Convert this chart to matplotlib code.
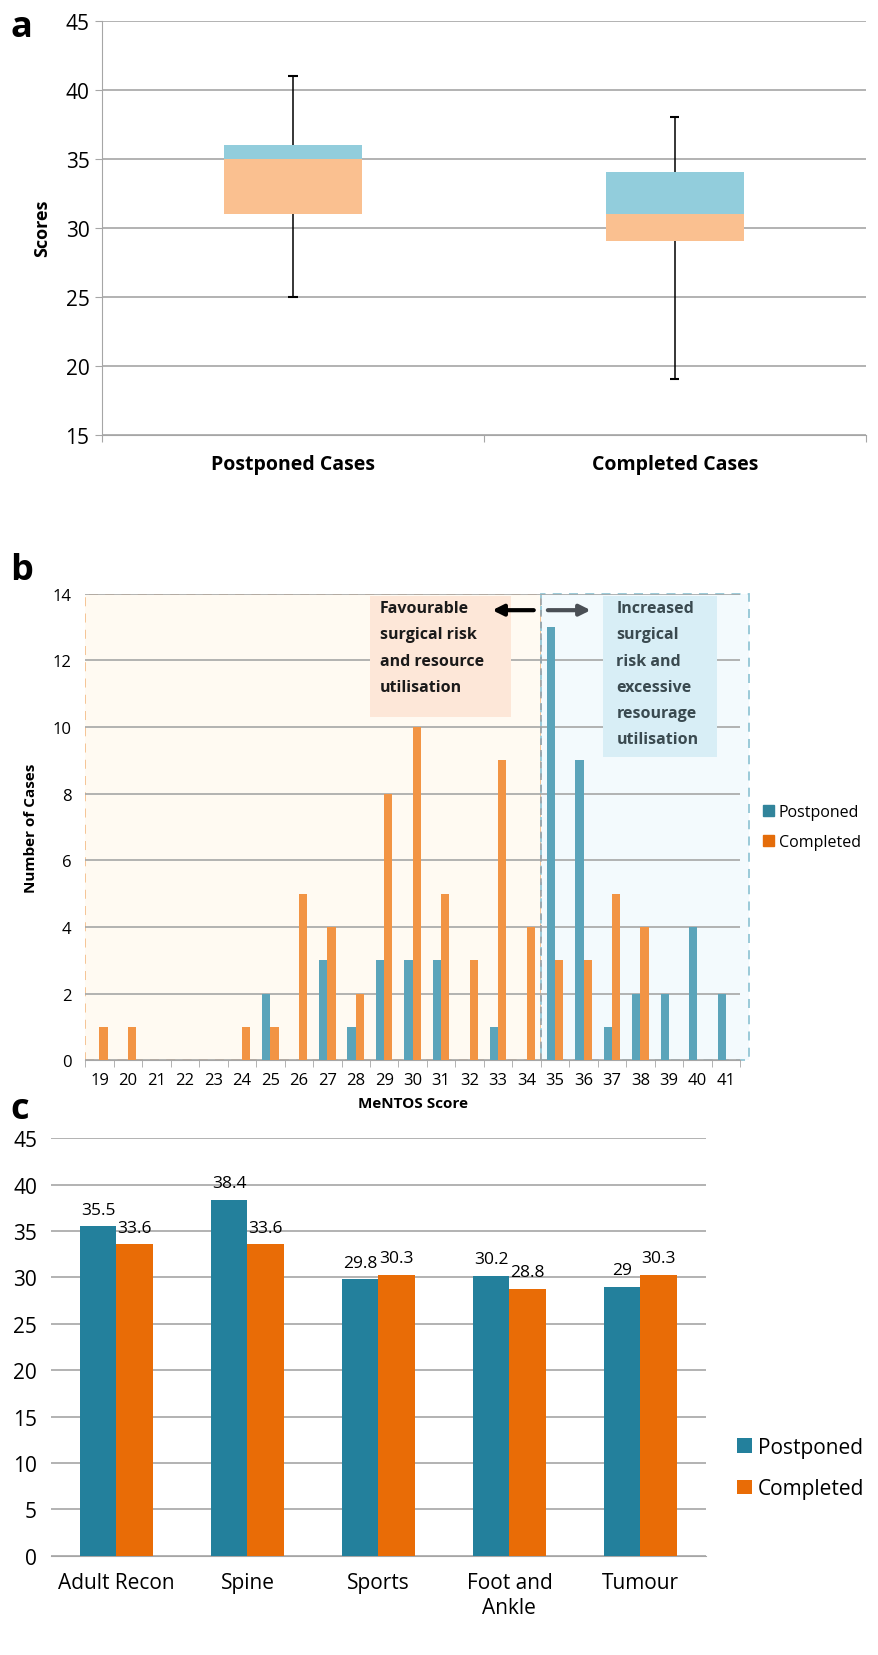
import numpy as np
import matplotlib
matplotlib.use('Agg')
import matplotlib.pyplot as plt
from matplotlib.patches import Rectangle

plt.rcParams['font.family'] = ['Open Sans', 'DejaVu Sans']

# ---- panel a: score ranges ----
box_cases = ['Postponed Cases', 'Completed Cases']
box_min = [25, 19]
box_q1 = [31, 29]
box_med = [35, 31]
box_q3 = [36, 34]
box_max = [41, 38]

# ---- panel b: MeNTOS score histogram ----
scores = list(range(19, 42))
hist_postponed = [0, 0, 0, 0, 0, 0, 2, 0, 3, 1, 3, 3, 3, 0, 1, 0, 13, 9, 1, 2, 2, 4, 2]
hist_completed = [1, 1, 0, 0, 0, 1, 1, 5, 4, 2, 8, 10, 5, 3, 9, 4, 3, 3, 5, 4, 0, 0, 0]

# ---- panel c: mean score per specialty ----
specialties = ['Adult Recon', 'Spine', 'Sports', 'Foot and\nAnkle', 'Tumour']
mean_postponed = [35.5, 38.4, 29.8, 30.2, 29]
mean_completed = [33.6, 33.6, 30.3, 28.8, 30.3]

W, H = 879, 1656
fig = plt.figure(figsize=(W / 100, H / 100), dpi=100)
grid_c = '#a6a6a6'

# ================= a =================
ax = fig.add_axes([0.116, 0.737, 0.869, 0.250])
xa = np.array([0.5, 1.5])
bw = 0.36
ax.bar(xa, np.array(box_med) - np.array(box_q1), bottom=box_q1, width=bw,
       color='#fac090', zorder=3)
ax.bar(xa, np.array(box_q3) - np.array(box_med), bottom=box_med, width=bw,
       color='#92cddc', zorder=3)
for i in range(2):
    ax.vlines(xa[i], box_min[i], box_q1[i], color='black', lw=1.1, zorder=2)
    ax.vlines(xa[i], box_q3[i], box_max[i], color='black', lw=1.1, zorder=2)
    ax.hlines([box_min[i], box_max[i]], xa[i] - 0.012, xa[i] + 0.012,
              color='black', lw=1.5, zorder=2)
ax.set_xlim(0, 2)
ax.set_ylim(15, 45)
ax.set_yticks(range(15, 46, 5))
ax.yaxis.grid(True, color=grid_c, lw=1.2)
ax.set_axisbelow(True)
ax.set_xticks([0, 1, 2])
ax.set_xticklabels([])
ax.set_xticks(xa, minor=True)
ax.set_xticklabels(box_cases, minor=True, fontsize=14, fontweight='bold')
ax.tick_params(axis='x', which='minor', length=0, pad=14)
ax.tick_params(axis='x', which='major', length=5, color=grid_c)
ax.tick_params(axis='y', length=5, color=grid_c, labelsize=15, pad=4)
for s in ['top', 'right']:
    ax.spines[s].set_visible(False)
ax.spines['left'].set_color(grid_c)
ax.spines['bottom'].set_color(grid_c)
ax.set_ylabel('Scores', fontsize=13, fontweight='bold', labelpad=10)
fig.text(0.012, 0.983, 'a', fontsize=26, fontweight='bold', va='center')

# ================= b =================
bx = fig.add_axes([0.097, 0.359, 0.745, 0.282])
xs = np.array(scores)
w = 0.29
bx.add_patch(Rectangle((18.5, 0), 16, 14, facecolor='#fffaf2', edgecolor='#f4c08e',
                       ls=(0, (5, 4)), lw=1.3, zorder=0))
bx.add_patch(Rectangle((34.5, 0), 7.3, 14, facecolor='#f3fafd', edgecolor='#93c6d6',
                       ls=(0, (5, 4)), lw=1.3, zorder=0, clip_on=False))
bx.yaxis.grid(True, color=grid_c, lw=1.2, zorder=1)
bx.bar(xs - w / 2, hist_postponed, width=w, color='#5ba4ba', label='Postponed', zorder=3)
bx.bar(xs + w / 2, hist_completed, width=w, color='#f29444', label='Completed', zorder=3)
bx.vlines(34.5, 0, 14, color='#9aa3a8', ls=(0, (4, 3)), lw=1.2, zorder=2)
bx.set_xlim(18.5, 41.5)
bx.set_ylim(0, 14)
bx.set_yticks(range(0, 15, 2))
bx.set_xticks(xs)
bx.set_xticks(np.arange(18.5, 42, 1), minor=True)
bx.tick_params(axis='x', which='major', length=0, labelsize=12, pad=8)
bx.tick_params(axis='x', which='minor', length=5, color=grid_c)
bx.tick_params(axis='y', length=0, labelsize=12, pad=10)
for s in ['top', 'right', 'left']:
    bx.spines[s].set_visible(False)
bx.spines['bottom'].set_color(grid_c)
bx.set_xlabel('MeNTOS Score', fontsize=11, fontweight='bold', labelpad=6)
bx.set_ylabel('Number of Cases', fontsize=11, fontweight='bold', labelpad=10)
bx.add_patch(Rectangle((28.5, 10.3), 4.95, 3.64, facecolor='#fde7d8', edgecolor='none',
                       zorder=4))
bx.text(28.85, 13.8, 'Favourable\nsurgical risk\nand resource\nutilisation', fontsize=11.5,
        fontweight='bold', va='top', ha='left', linespacing=1.85, zorder=5, color='#1a1a1a')
bx.add_patch(Rectangle((36.7, 9.1), 4.0, 4.84, facecolor='#d8eef6', edgecolor='none',
                       zorder=4))
bx.text(37.15, 13.8, 'Increased\nsurgical\nrisk and\nexcessive\nresourage\nutilisation',
        fontsize=11.5, fontweight='bold', va='top', ha='left', linespacing=1.85, zorder=5,
        color='#3a4a50')
bx.annotate('', xy=(32.7, 13.5), xytext=(34.35, 13.5),
            arrowprops=dict(arrowstyle='-|>', color='black', lw=3, mutation_scale=16), zorder=6)
bx.annotate('', xy=(36.35, 13.5), xytext=(34.65, 13.5),
            arrowprops=dict(arrowstyle='-|>', color='#4a4f55', lw=3, mutation_scale=16), zorder=6)
hb, lb = bx.get_legend_handles_labels()
bx.legend([Rectangle((0, 0), 1, 1, color='#31849b'), Rectangle((0, 0), 1, 1, color='#e46c0a')],
          lb, loc='center left', bbox_to_anchor=(1.025, 0.5), frameon=False,
          fontsize=11.5, handlelength=0.7, handleheight=0.7, handletextpad=0.3,
          labelspacing=0.9, borderaxespad=0)
fig.text(0.012, 0.655, 'b', fontsize=26, fontweight='bold', va='center')

# ================= c =================
cx = fig.add_axes([0.058, 0.060, 0.745, 0.252])
xc = np.arange(len(specialties))
wc = 0.28
b1 = cx.bar(xc - wc / 2, mean_postponed, width=wc, color='#23809c', label='Postponed', zorder=3)
b2 = cx.bar(xc + wc / 2, mean_completed, width=wc, color='#e96c06', label='Completed', zorder=3)
cx.bar_label(b1, labels=[f'{v:g}' for v in mean_postponed], padding=6, fontsize=12.5)
cx.bar_label(b2, labels=[f'{v:g}' for v in mean_completed], padding=6, fontsize=12.5)
cx.set_xlim(-0.5, len(specialties) - 0.5)
cx.set_ylim(0, 45)
cx.set_yticks(range(0, 46, 5))
cx.yaxis.grid(True, color=grid_c, lw=1.2)
cx.set_axisbelow(True)
cx.set_xticks(xc)
cx.set_xticklabels(specialties, fontsize=15)
cx.tick_params(axis='x', length=0, pad=12)
cx.tick_params(axis='y', length=0, labelsize=15, pad=10)
for s in ['top', 'right', 'left']:
    cx.spines[s].set_visible(False)
cx.spines['bottom'].set_color(grid_c)
cx.legend(loc='center left', bbox_to_anchor=(1.035, 0.21), frameon=False, fontsize=15,
          handlelength=0.7, handleheight=0.7, handletextpad=0.3, labelspacing=1.0,
          borderaxespad=0)
fig.text(0.012, 0.330, 'c', fontsize=26, fontweight='bold', va='center')

fig.savefig('out.png', dpi=100)
